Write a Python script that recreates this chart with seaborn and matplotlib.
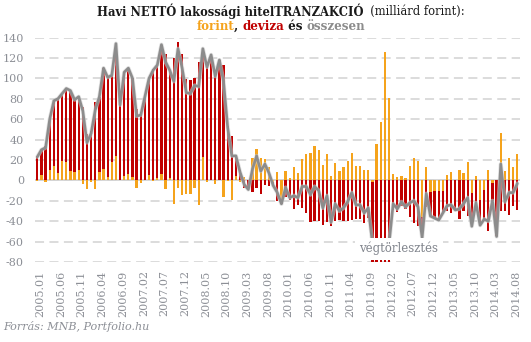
import numpy as np
import pandas as pd
import matplotlib
matplotlib.use("Agg")
import matplotlib.pyplot as plt
from matplotlib.transforms import ScaledTranslation
import seaborn as sns

# ---- data (milliárd forint), monthly 2005.01 .. 2014.09 ----
forint = [-1, 5, -2, 10, 14, 7, 19, 18, 9, 8, 10, -4,
          -8, -2, -8, 8, 11, 3, 18, 24, 0, 4, 6, 3,
          -7, -3, 0, 5, -1, 2, 6, -8, 2, -23, -7, -14,
          -13, -13, -7, -24, 23, -2, 0, -4, 0, -16, -1, -19,
          4, -2, 3, 0, 22, 31, 22, 21, 13, -2, 8, -19,
          9, 2, 13, 7, 21, 26, 27, 34, 30, 15, 26, 4,
          17, 9, 13, 19, 27, 14, 14, 10, 10, -2, 36, 57,
          126, 81, 6, 3, 4, 2, 14, 22, 19, -36, 13, -11,
          -10, -10, -10, 5, 8, 0, 10, 7, 18, -12, 4, -19,
          -9, 10, -3, 0, 46, 9, 22, 13, 26]
deviza = [24, 25, 34, 50, 64, 73, 66, 72, 79, 71, 72, 72,
          45, 48, 77, 74, 99, 98, 85, 110, 74, 102, 104, 97,
          70, 67, 82, 95, 109, 111, 127, 124, 106, 120, 136, 124,
          99, 98, 100, 116, 106, 113, 123, 106, 118, 113, 53, 43,
          20, 10, -7, -9, -11, -7, -13, -5, -6, -3, -20, -4,
          -16, -19, -28, -24, -27, -32, -41, -40, -40, -44, -41, -45,
          -40, -39, -40, -40, -39, -38, -38, -42, -37, -170, -230, -300,
          -380, -250, -29, -31, -25, -28, -36, -42, -45, -20, -26, -24,
          -27, -29, -22, -30, -32, -29, -38, -30, -35, -33, -26, -25,
          -29, -50, -17, -55, -30, -30, -34, -25, -29]
osszesen = [23, 30, 32, 60, 78, 80, 85, 90, 88, 79, 82, 68,
            37, 46, 69, 82, 110, 101, 103, 134, 74, 106, 110, 100,
            63, 64, 82, 100, 108, 113, 133, 116, 108, 97, 129, 110,
            86, 85, 93, 92, 129, 111, 123, 102, 118, 97, 52, 24,
            24, 8, -4, -9, 11, 24, 9, 16, 7, -5, -12, -23,
            -7, -17, -15, -17, -6, -6, -14, -6, -10, -27, -15, -41,
            -23, -30, -27, -21, -12, -24, -24, -32, -27, -62, -64, -64,
            -62, -62, -23, -28, -21, -26, -22, -20, -26, -56, -13, -35,
            -37, -39, -32, -25, -24, -29, -28, -23, -17, -45, -22, -44,
            -38, -40, -20, -55, 16, -21, -12, -12, -3]
tick_labels = ["2005.01", "2005.06", "2005.11", "2006.04", "2006.09", "2007.02",
               "2007.07", "2007.12", "2008.05", "2008.10", "2009.03", "2009.08",
               "2010.01", "2010.06", "2010.11", "2011.04", "2011.09", "2012.02",
               "2012.07", "2012.12", "2013.05", "2013.10", "2014.03", "2014.08"]

n = len(forint)
pos = np.arange(n)
red_height = [d + f if d * f > 0 else d for f, d in zip(forint, deviza)]
df = pd.DataFrame({"pos": pos, "forint": forint, "red": red_height, "total": osszesen})

ORANGE = "#f5a31c"
RED = "#c00000"
GRAY = "#8c8c8c"
TXT = "#8c8f96"

sns.set_theme(style="white")
plt.rcParams["font.family"] = ["DejaVu Serif"]
plt.rcParams["axes.unicode_minus"] = False

W, H = 531, 342
fig = plt.figure(figsize=(W / 100, H / 100), dpi=100)
ax = fig.add_axes([35 / W, 1 - 262 / H, (520 - 35) / W, (262 - 37.5) / H])

sns.barplot(data=df, x="pos", y="red", native_scale=True, color=RED, width=0.55,
            saturation=1, linewidth=0, errorbar=None, ax=ax, zorder=2)
sns.barplot(data=df, x="pos", y="forint", native_scale=True, color=ORANGE, width=0.55,
            saturation=1, linewidth=0, errorbar=None, ax=ax, zorder=3)
sns.lineplot(data=df, x="pos", y="total", color="#cfcfcf", linewidth=3.0, ax=ax, zorder=4, alpha=0.6)
sns.lineplot(data=df, x="pos", y="total", color=GRAY, linewidth=1.9, ax=ax, zorder=5)

ax.set_xlim(-0.56, 116.65)
ax.set_ylim(-80, 140)
ax.set_yticks(range(-80, 141, 20))
ax.set_axisbelow(True)
ax.yaxis.grid(True, color="#d9d9d9", linestyle=(0, (5, 3)), linewidth=1.3)
ax.xaxis.grid(False)
ax.axhline(0, color="#d4d4d4", linewidth=1.3, zorder=1)
for s in ax.spines.values():
    s.set_visible(False)
ax.set_xlabel("")
ax.set_ylabel("")
ax.set_xticks(range(0, n, 5))
ax.set_xticklabels(tick_labels, rotation=90, fontsize=8, color=TXT)
ax.tick_params(axis="both", length=0, colors=TXT, labelsize=8)
ax.tick_params(axis="x", pad=6)
ax.tick_params(axis="y", pad=8)
for lab in ax.get_xticklabels():
    lab.set_transform(lab.get_transform() + ScaledTranslation(3 / 100, 0, fig.dpi_scale_trans))

ax.text(87.4, -67, "végtörlesztés", ha="center", va="center", fontsize=8.5, color="#80848c",
        zorder=10, bbox=dict(boxstyle="square,pad=0.35", fc="white", ec="none"))

fig.text(3 / W, 1 - 327 / H, "Forrás: MNB, Portfolio.hu", fontsize=8, style="italic",
         color=TXT, ha="left", va="center")


def draw_pieces(pieces, ypix, fontsize, cx):
    renderer = fig.canvas.get_renderer()
    texts = []
    for s, color, weight in pieces:
        t = fig.text(0, 1 - ypix / H, s, color=color, fontweight=weight, fontsize=fontsize,
                     ha="left", va="center")
        texts.append(t)
    widths = [t.get_window_extent(renderer).width for t in texts]
    x = cx - sum(widths) / 2
    for t, w in zip(texts, widths):
        t.set_x(x / W)
        x += w


draw_pieces([("Havi NETTÓ lakossági hitelTRANZAKCIÓ", "#1a1a1a", "bold"),
             ("  (milliárd forint):", "#1a1a1a", "normal")], 11, 8.3, 281)
draw_pieces([("forint", ORANGE, "bold"), (", ", "#1a1a1a", "bold"), ("deviza", RED, "bold"),
             (" és ", "#1a1a1a", "bold"), ("összesen", GRAY, "bold")], 26, 8.6, 281)

fig.savefig("out.png", dpi=100)
